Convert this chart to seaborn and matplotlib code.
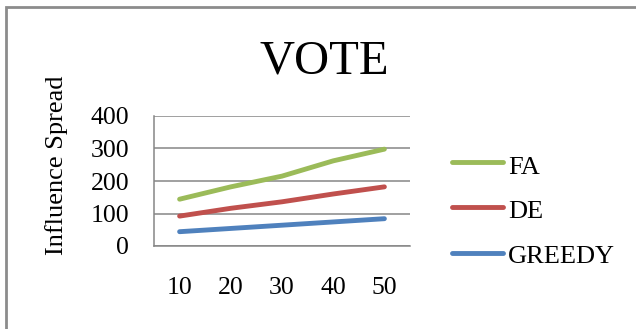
import matplotlib
matplotlib.use("Agg")
import matplotlib.pyplot as plt
from matplotlib.patches import Rectangle
import seaborn as sns
import pandas as pd

# Seed-set sizes and influence spread per algorithm
seed_sizes = ["10", "20", "30", "40", "50"]
fa_spread = [144, 182, 215, 262, 298]
de_spread = [92, 116, 136, 160, 182]
greedy_spread = [44, 54, 64, 74, 84]
y_ticks = [0, 100, 200, 300, 400]

series = {"FA": fa_spread, "DE": de_spread, "GREEDY": greedy_spread}
colors = {"FA": "#9BBB59", "DE": "#C0504D", "GREEDY": "#4F81BD"}

df = pd.DataFrame(
    [(k, s, v) for k, vals in series.items() for s, v in zip(seed_sizes, vals)],
    columns=["algo", "seeds", "spread"],
)

sns.set_style("white")
plt.rcParams["font.family"] = ["Liberation Serif", "DejaVu Serif"]
plt.rcParams["text.color"] = "black"
plt.rcParams["xtick.color"] = "black"
plt.rcParams["ytick.color"] = "black"

W, H = 636, 329
fig = plt.figure(figsize=(W / 100, H / 100), dpi=100)

def fx(px):
    return px / W

def fy(py):
    return 1 - py / H

ax = fig.add_axes([fx(154), fy(246), fx(410) - fx(154), fy(116) - fy(246)])

sns.lineplot(
    data=df, x="seeds", y="spread", hue="algo", palette=colors,
    linewidth=3.5, ax=ax, legend=False, sort=False,
)
for line in ax.lines:
    line.set_solid_capstyle("round")
    line.set_solid_joinstyle("round")

ax.set_xlim(-0.5, len(seed_sizes) - 0.5)
ax.set_ylim(0, 400)
ax.set_yticks(y_ticks)
ax.set_yticklabels([str(t) for t in y_ticks])
ax.set_xticks(range(len(seed_sizes)))
ax.set_xticklabels(seed_sizes)
ax.tick_params(axis="y", length=0, pad=18, labelsize=18.5, labelcolor="black")
ax.tick_params(axis="x", length=0, pad=22, labelsize=18.5, labelcolor="black")
ax.set_xlabel("")
ax.set_ylabel("")

ax.yaxis.grid(True, color="#868686", linewidth=1.1)
ax.set_axisbelow(True)
for side in ["top", "right"]:
    ax.spines[side].set_visible(False)
for side in ["left", "bottom"]:
    ax.spines[side].set_color("#868686")
    ax.spines[side].set_linewidth(1.1)

fig.text(fx(324.5), fy(73), "VOTE", ha="center", va="baseline", fontsize=35)
fig.text(fx(57), fy(165.5), "Influence Spread", rotation=90,
         ha="center", va="center", fontsize=19)

# Legend drawn as figure-level handles
legend_rows = [("FA", 162, 174), ("DE", 207, 218), ("GREEDY", 253, 263)]
for name, line_y, text_y in legend_rows:
    fig.add_artist(plt.Line2D([fx(452), fx(503)], [fy(line_y), fy(line_y)],
                              color=colors[name], linewidth=3.5,
                              solid_capstyle="round"))
    fig.text(fx(508), fy(text_y), name, ha="left", va="baseline", fontsize=19)

# Outer frame
fig.add_artist(Rectangle((fx(6), fy(H + 10)), fx(W + 10), fy(7) - fy(H + 10),
                         transform=fig.transFigure, fill=False,
                         edgecolor="#8C8C8C", linewidth=2))

fig.savefig("out.png", dpi=100)
